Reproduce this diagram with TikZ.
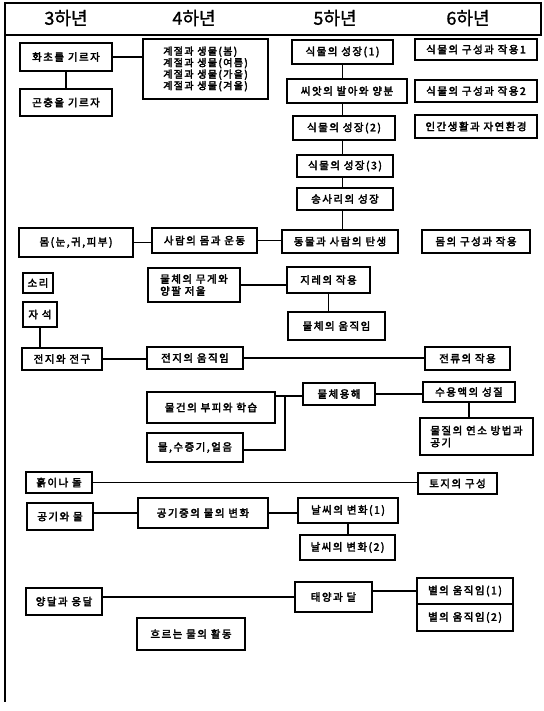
\documentclass[tikz,border=0pt]{standalone}
\usepackage{fontspec}
\setmainfont{Noto Sans CJK KR}
\newfontfamily\krbox{Noto Sans CJK KR}[FakeBold=3, LetterSpace=14]
\newfontfamily\krhead{Noto Sans CJK KR}[FakeBold=1.2]

\begin{document}
\begin{tikzpicture}[x=1pt,y=-1pt,
        box/.style={draw=black, line width=2.2pt, inner sep=1pt, align=center,
            font=\krbox\fontsize{10.5}{12}\selectfont},
        link/.style={draw=black, line width=1.5pt},
        head/.style={font=\krhead\fontsize{18}{19}\selectfont}]
    \useasboundingbox (0,0) rectangle (543,711);
    % frame and grade row
    \draw [line width=1.5pt] (5,3) rectangle (541,35);
    \draw [line width=1.8pt] (5,35) -- (5,702);
    \node [head] (g3) at (66,18) {3하년};
    \node [head] (g4) at (194,18) {4하년};
    \node [head] (g5) at (335,18) {5하년};
    \node [head] (g6) at (468,18) {6하년};

    % plants
    \node [box, minimum width=92, minimum height=28] (hwacho) at (66,57) {화초를 기르자};
    \node [box, minimum width=92, minimum height=27] (gonchung) at (66,102.5) {곤충을 기르자};
    \node [box, minimum width=125, minimum height=60, align=left,
           font=\krbox\fontsize{10}{11.5}\selectfont] (gyejeol) at (205.5,69)
        {계절과 생물(봄)\\계절과 생물(여름)\\계절과 생물(가을)\\계절과 생물(겨울)};
    \node [box, minimum width=101, minimum height=24] (sik1) at (342.5,52) {식물의 성장(1)};
    \node [box, minimum width=120, minimum height=24] (ssiat) at (347,91) {씨앗의 발아와 양분};
    \node [box, minimum width=102, minimum height=24] (sik2) at (344,128) {식물의 성장(2)};
    \node [box, minimum width=96, minimum height=22] (sik3) at (345,166) {식물의 성장(3)};
    \node [box, minimum width=96, minimum height=22] (songsari) at (345,199) {송사리의 성장};
    \node [box, minimum width=116, minimum height=23] (dongmul) at (340,241.5) {동물과 사람의 탄생};
    \node [box, minimum width=122, minimum height=21] (gusung1) at (476,49.5) {식물의 구성과 작용1};
    \node [box, minimum width=122, minimum height=22] (gusung2) at (476,91) {식물의 구성과 작용2};
    \node [box, minimum width=122, minimum height=23] (ingan) at (476,126.5) {인간생활과 자연환경};

    % body
    \node [box, minimum width=114, minimum height=29] (mom) at (76,242.5) {몸(눈,귀,피부)};
    \node [box, minimum width=105, minimum height=25] (saram) at (204.5,240.5) {사람의 몸과 운동};
    \node [box, minimum width=108, minimum height=23] (momgusung) at (476,241.5) {몸의 구성과 작용};

    % force, electricity
    \node [box, minimum width=30, minimum height=20] (sori) at (38,283) {소리};
    \node [box, minimum width=34, minimum height=25] (jaseok) at (40,314.5) {자 석};
    \node [box, minimum width=92, minimum height=34, align=left] (muge) at (194,285)
        {물체의 무게와\\양팔 저울};
    \node [box, minimum width=83, minimum height=26] (jire) at (328.5,280) {지레의 작용};
    \node [box, minimum width=97, minimum height=28] (umjik) at (336.5,326) {물체의 움직임};
    \node [box, minimum width=80, minimum height=22] (jeongu) at (62,359) {전지와 전구};
    \node [box, minimum width=96, minimum height=22] (jeonji) at (195,358) {전지의 움직임};
    \node [box, minimum width=85, minimum height=23] (jeonryu) at (467.5,358.5) {전류의 작용};

    % matter
    \node [box, minimum width=128, minimum height=31] (mulgeon) at (211,407.5) {물건의 부피와 학습};
    \node [box, minimum width=96, minimum height=29] (mulsu) at (195,447.5) {물,수증기,얼음};
    \node [box, minimum width=72, minimum height=22] (yonghae) at (339,394) {물체용해};
    \node [box, minimum width=92, minimum height=20] (suyong) at (469,392) {수용액의 성질};
    \node [box, minimum width=113, minimum height=37, align=left] (mulgil) at (476.5,436.5)
        {물질의 연소 방법과\\공기};
    \coordinate (jn) at (285,396);
    \coordinate (jn2) at (285,450);

    % earth
    \node [box, minimum width=66, minimum height=21] (heuk) at (59,482.5) {흙이나 돌};
    \node [box, minimum width=79, minimum height=21] (toji) at (457.5,483.5) {토지의 구성};
    \node [box, minimum width=66, minimum height=27] (gonggi) at (60,516.5) {공기와 물};
    \node [box, minimum width=130, minimum height=30] (gonggijung) at (203,513) {공기중의 물의 변화};
    \node [box, minimum width=100, minimum height=25] (nalssi1) at (348,510.5) {날씨의 변화(1)};
    \node [box, minimum width=95, minimum height=25] (nalssi2) at (347.5,547.5) {날씨의 변화(2)};
    \node [box, minimum width=76, minimum height=27] (yangdal) at (64,601.5) {양달과 응달};
    \node [box, minimum width=77, minimum height=30] (taeyang) at (333.5,597) {태양과 달};
    \node [box, minimum width=96, minimum height=26] (byeol1) at (465,591) {별의 움직임(1)};
    \node [box, minimum width=96, minimum height=27] (byeol2) at (465,617.5) {별의 움직임(2)};
    \node [box, minimum width=108, minimum height=32] (heureu) at (191,634) {흐르는 물의 활동};

    % connectors
    \draw [link] (hwacho.east) -- (hwacho.east -| gyejeol.west);
    \draw [link] (hwacho.south) -- (hwacho.south |- gonchung.north);
    \draw [link] (sik1.south) -- (sik1.south |- ssiat.north);
    \draw [link] (sik1.south |- ssiat.south) -- (sik1.south |- sik2.north);
    \draw [link] (sik1.south |- sik2.south) -- (sik1.south |- sik3.north);
    \draw [link] (sik1.south |- sik3.south) -- (sik1.south |- songsari.north);
    \draw [link] (sik1.south |- songsari.south) -- (sik1.south |- dongmul.north);
    \draw [link] (mom.east) -- (mom.east -| saram.west);
    \draw [link] (saram.east) -- (saram.east -| dongmul.west);
    \draw [link] (muge.east) -- (muge.east -| jire.west);
    \draw [link] (jire.south) -- (jire.south |- umjik.north);
    \draw [link] (jaseok.south) -- (jaseok.south |- jeongu.north);
    \draw [link] (jeongu.east) -- (jeongu.east -| jeonji.west);
    \draw [link] (jeonji.east) -- (jeonji.east -| jeonryu.west);
    \draw [link] (mulgeon.east |- jn) -- (jn) -- (jn -| yonghae.west);
    \draw [link] (mulsu.east |- jn2) -- (jn2) -- (jn);
    \draw [link] (yonghae.east) -- (yonghae.east -| suyong.west);
    \draw [link] (suyong.south) -- (suyong.south |- mulgil.north);
    \draw [link] (heuk.east) -- (heuk.east -| toji.west);
    \draw [link] (gonggi.east |- gonggijung.east) -- (gonggijung.west);
    \draw [link] (gonggijung.east) -- (gonggijung.east -| nalssi1.west);
    \draw [link] (nalssi1.south) -- (nalssi1.south |- nalssi2.north);
    \draw [link] (yangdal.east |- taeyang.east) -- (taeyang.west);
    \draw [link] (taeyang.east |- byeol1.east) -- (byeol1.west);
\end{tikzpicture}
\end{document}
